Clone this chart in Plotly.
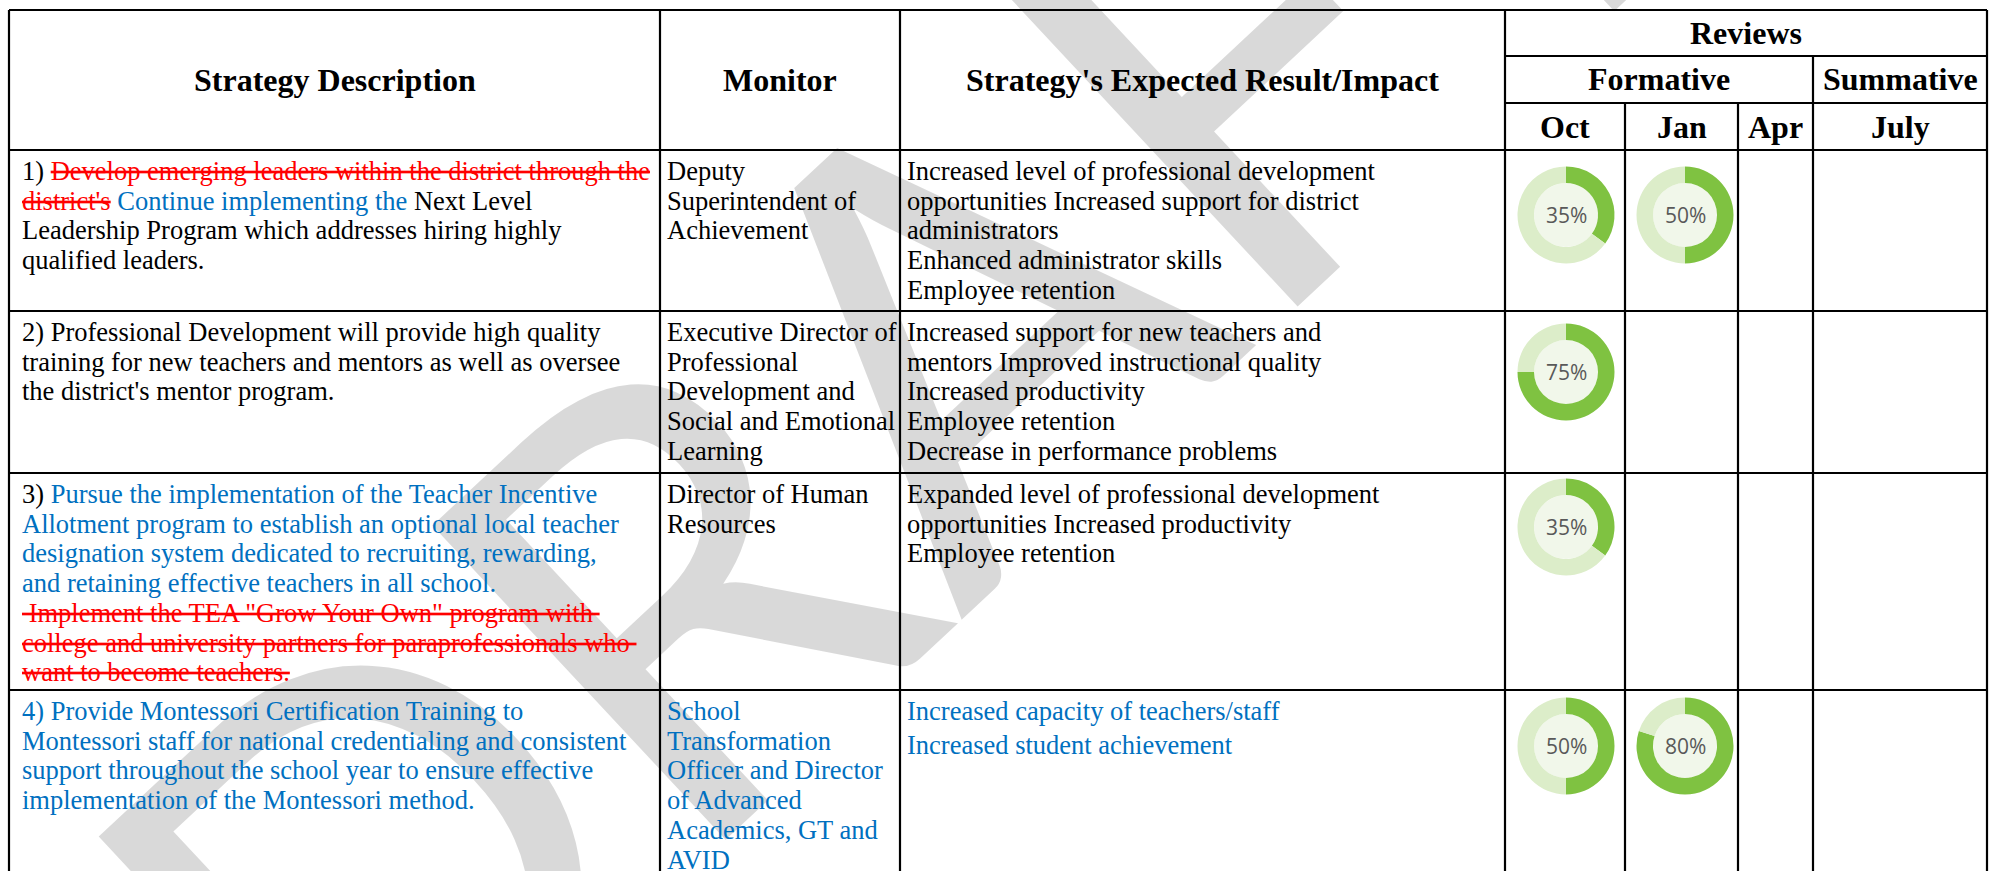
import plotly.graph_objects as go

W, H = 1993, 871

# ---------------- data ----------------
header_main = ["Strategy Description", "Monitor", "Strategy's Expected Result/Impact"]
header_reviews = "Reviews"
header_groups = ["Formative", "Summative"]
header_months = ["Oct", "Jan", "Apr", "July"]

# review completion (percent) per strategy; None = no review yet
pct_oct = [35, 75, 35, 50]
pct_jan = [50, None, None, 80]
pct_apr = [None, None, None, None]
pct_july = [None, None, None, None]

# text lines: list of (text, style)  k = black, b = blue (added), r = red strike (deleted)
strategy_1 = [[("1) ", "k"), ("Develop emerging leaders within the district through the", "r")],
              [("district's", "r"), (" Continue implementing the", "b"), (" Next Level", "k")],
              [("Leadership Program which addresses hiring highly", "k")],
              [("qualified leaders.", "k")]]
strategy_2 = [[("2) Professional Development will provide high quality", "k")],
              [("training for new teachers and mentors as well as oversee", "k")],
              [("the district's mentor program.", "k")]]
strategy_3 = [[("3) ", "k"), ("Pursue the implementation of the Teacher Incentive", "b")],
              [("Allotment program to establish an optional local teacher", "b")],
              [("designation system dedicated to recruiting, rewarding,", "b")],
              [("and retaining effective teachers in all school.", "b")],
              [("&nbsp;Implement the TEA \"Grow Your Own\" program with&nbsp;", "r")],
              [("college and university partners for paraprofessionals who&nbsp;", "r")],
              [("want to become teachers.", "r")]]
strategy_4 = [[("4) Provide Montessori Certification Training to", "b")],
              [("Montessori staff for national credentialing and consistent", "b")],
              [("support throughout the school year to ensure effective", "b")],
              [("implementation of the Montessori method.", "b")]]

monitor_1 = [[("Deputy", "k")], [("Superintendent of", "k")], [("Achievement", "k")]]
monitor_2 = [[("Executive Director of", "k")], [("Professional", "k")], [("Development and", "k")],
             [("Social and Emotional", "k")], [("Learning", "k")]]
monitor_3 = [[("Director of Human", "k")], [("Resources", "k")]]
monitor_4 = [[("School", "b")], [("Transformation", "b")], [("Officer and Director", "b")],
             [("of Advanced", "b")], [("Academics, GT and", "b")], [("AVID", "b")]]

result_1 = [[("Increased level of professional development", "k")],
            [("opportunities Increased support for district", "k")],
            [("administrators", "k")],
            [("Enhanced administrator skills", "k")],
            [("Employee retention", "k")]]
result_2 = [[("Increased support for new teachers and", "k")],
            [("mentors Improved instructional quality", "k")],
            [("Increased productivity", "k")],
            [("Employee retention", "k")],
            [("Decrease in performance problems", "k")]]
result_3 = [[("Expanded level of professional development", "k")],
            [("opportunities Increased productivity", "k")],
            [("Employee retention", "k")]]
result_4 = [[("Increased capacity of teachers/staff", "b")],
            [("Increased student achievement", "b")]]

watermark_text = "DRAFT"

# ---------------- layout / style ----------------
COL_X = [9, 660, 900, 1505, 1625, 1738, 1813, 1987]
ROW_Y = [10, 56, 103, 150, 311, 473, 690]
BODY_FONT = "Liberation Serif"
BODY_SIZE = 26.5
HEAD_SIZE = 32
BLACK, BLUE, RED = "#000000", "#0070c0", "#ff0000"
GREEN, TRACK, INNER = "#7fc241", "#dcedc9", "#f1f7ea"
LINE_W = 2.2
TEXT_PAD = [13, 7, 7]
FIRST_LINE = 21
STEP = 29.7
STEP_OVERRIDE = {(3, 2): 34}
DONUT_DY = [65, 61, 54, 56]
DONUT_CX = [1566, 1685, 1776, 1900]
DONUT_R = 48.5
HOLE = 0.66
WM_X, WM_Y, WM_SIZE, WM_ANGLE = 900, 360, 600, -43


def px(x):
    return x / W


def py(y):
    return 1 - y / H


def seg_markup(text, style):
    if style == "r":
        return f'<span style="color:{RED}"><s>{text}</s></span>'
    if style == "b":
        return f'<span style="color:{BLUE}">{text}</span>'
    return text


fig = go.Figure()
annotations = []
shapes = []

# watermark (first so table text sits on top)
annotations.append(dict(
    text=watermark_text, x=px(WM_X), y=py(WM_Y), xref="paper", yref="paper",
    showarrow=False, xanchor="center", yanchor="middle", textangle=WM_ANGLE,
    font=dict(family="Lato", size=WM_SIZE, color="rgba(0,0,0,0.15)"),
    borderpad=0, borderwidth=0))


# ----- grid lines -----
def hline(x0, x1, y):
    shapes.append(dict(type="line", xref="paper", yref="paper", x0=px(x0), x1=px(x1),
                       y0=py(y), y1=py(y), line=dict(color="black", width=LINE_W)))


def vline(x, y0, y1):
    shapes.append(dict(type="line", xref="paper", yref="paper", x0=px(x), x1=px(x),
                       y0=py(y0), y1=py(y1), line=dict(color="black", width=LINE_W)))


hline(COL_X[0], COL_X[-1], ROW_Y[0])
hline(COL_X[3], COL_X[-1], ROW_Y[1])
hline(COL_X[3], COL_X[-1], ROW_Y[2])
for yy in ROW_Y[3:]:
    hline(COL_X[0], COL_X[-1], yy)
for xx in [COL_X[0], COL_X[1], COL_X[2], COL_X[3], COL_X[-1]]:
    vline(xx, ROW_Y[0], H + 5)
vline(COL_X[6], ROW_Y[1], H + 5)
vline(COL_X[4], ROW_Y[2], H + 5)
vline(COL_X[5], ROW_Y[2], H + 5)


def text_ann(txt, x, y, size=BODY_SIZE, bold=False, anchor="left", color=BLACK):
    annotations.append(dict(
        text=txt, x=px(x), y=py(y), xref="paper", yref="paper", showarrow=False,
        xanchor=anchor, yanchor="middle", borderpad=0, borderwidth=0,
        font=dict(family=BODY_FONT, size=size, color=color,
                  weight="bold" if bold else "normal")))


# ----- headers -----
hy = (ROW_Y[0] + ROW_Y[3]) / 2
for i, h in enumerate(header_main):
    text_ann(h, (COL_X[i] + COL_X[i + 1]) / 2, hy, HEAD_SIZE, True, "center")
text_ann(header_reviews, (COL_X[3] + COL_X[7]) / 2, (ROW_Y[0] + ROW_Y[1]) / 2, HEAD_SIZE, True, "center")
text_ann(header_groups[0], (COL_X[3] + COL_X[6]) / 2, (ROW_Y[1] + ROW_Y[2]) / 2, HEAD_SIZE, True, "center")
text_ann(header_groups[1], (COL_X[6] + COL_X[7]) / 2, (ROW_Y[1] + ROW_Y[2]) / 2, HEAD_SIZE, True, "center")
for j, m in enumerate(header_months):
    text_ann(m, (COL_X[3 + j] + COL_X[4 + j]) / 2, (ROW_Y[2] + ROW_Y[3]) / 2, HEAD_SIZE, True, "center")

# ----- body cells -----
rows = [
    [strategy_1, monitor_1, result_1],
    [strategy_2, monitor_2, result_2],
    [strategy_3, monitor_3, result_3],
    [strategy_4, monitor_4, result_4],
]
for r, cells in enumerate(rows):
    top = ROW_Y[3 + r]
    for c, lines in enumerate(cells):
        step = STEP_OVERRIDE.get((r, c), STEP)
        for i, line in enumerate(lines):
            markup = "".join(seg_markup(t, s) for t, s in line)
            text_ann(markup, COL_X[c] + TEXT_PAD[c], top + FIRST_LINE + i * step)

# ----- donuts -----
month_pcts = [pct_oct, pct_jan, pct_apr, pct_july]
for j, pcts in enumerate(month_pcts):
    for r, p in enumerate(pcts):
        if p is None:
            continue
        cx = DONUT_CX[j]
        cy = ROW_Y[3 + r] + DONUT_DY[r]
        rr = DONUT_R
        shapes.append(dict(type="circle", xref="paper", yref="paper", layer="below",
                           x0=px(cx - rr * HOLE), x1=px(cx + rr * HOLE),
                           y0=py(cy + rr * HOLE), y1=py(cy - rr * HOLE),
                           fillcolor=INNER, line=dict(width=0)))
        fig.add_trace(go.Pie(
            values=[p, 100 - p], hole=HOLE, sort=False, direction="clockwise", rotation=0,
            marker=dict(colors=[GREEN, TRACK], line=dict(width=0)),
            textinfo="none", hoverinfo="skip", showlegend=False,
            domain=dict(x=[px(cx - rr), px(cx + rr)], y=[py(cy + rr), py(cy - rr)])))
        annotations.append(dict(
            text=f"{p}%", x=px(cx), y=py(cy), xref="paper", yref="paper", showarrow=False,
            xanchor="center", yanchor="middle", borderpad=0, borderwidth=0,
            font=dict(family="Open Sans", size=21, color="#595959")))

fig.update_layout(
    width=W, height=H, margin=dict(l=0, r=0, t=0, b=0), autosize=False,
    paper_bgcolor="white", plot_bgcolor="white",
    shapes=shapes, annotations=annotations, showlegend=False)

fig.write_html("out.html", config={"displayModeBar": False},
               post_script="document.body.style.margin='0px';document.body.style.overflow='hidden';")
